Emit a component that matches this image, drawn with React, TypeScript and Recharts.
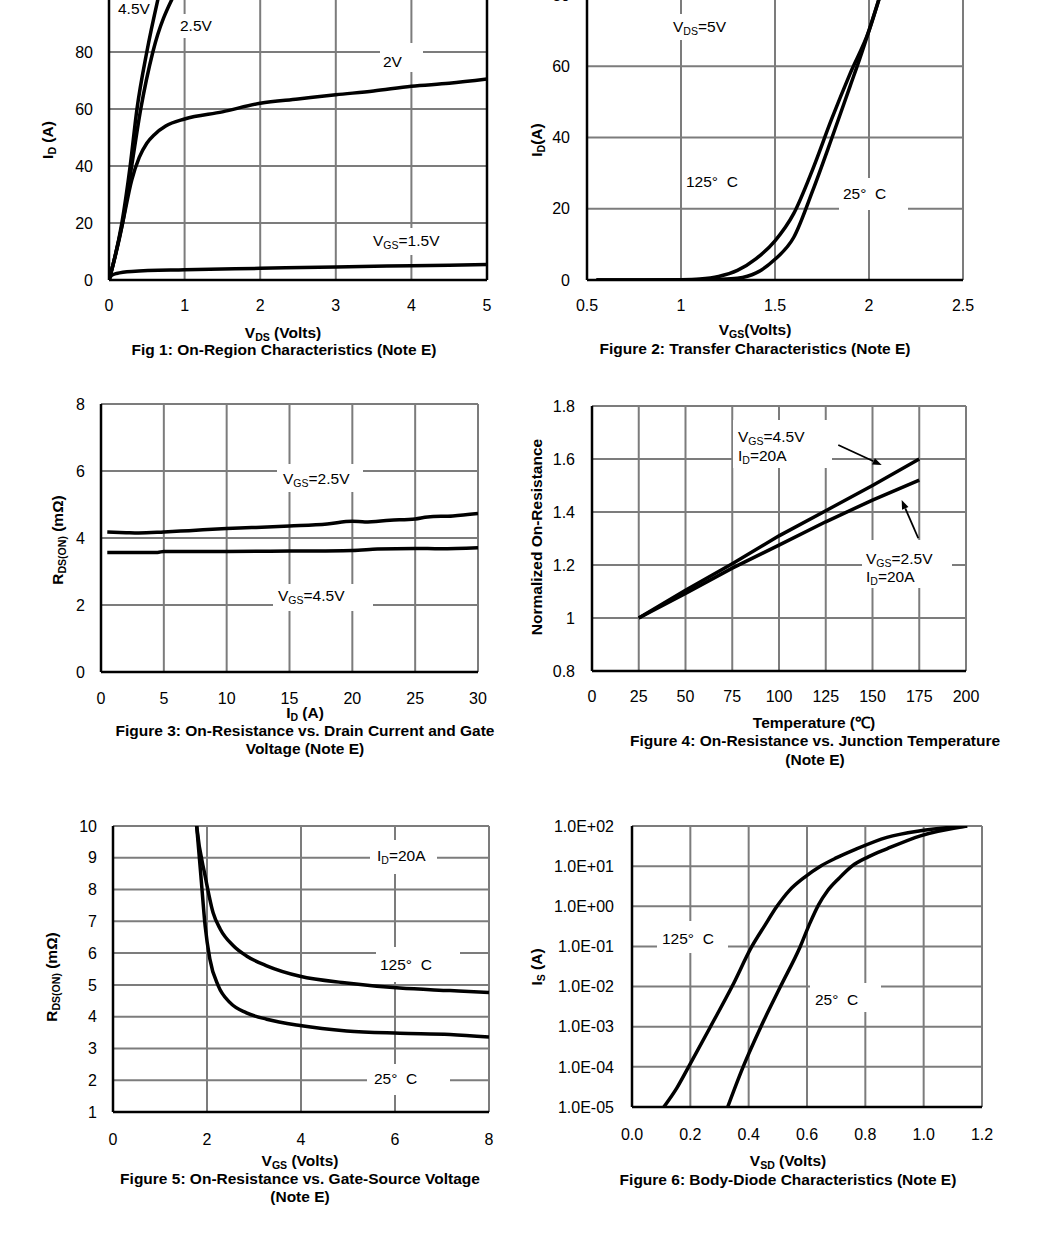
import React from 'react'
import { LineChart, Line, XAxis, YAxis, CartesianGrid, ReferenceLine } from 'recharts'

const FONT = '"Liberation Sans", Arial, Helvetica, sans-serif'

// Fig 1: ID vs VDS
const fig1Vgs45 = [
  { x: 0, y: 0 }, { x: 0.05, y: 5 }, { x: 0.17, y: 20 }, { x: 0.28, y: 40 },
  { x: 0.37, y: 60 }, { x: 0.5, y: 80 }, { x: 0.66, y: 100 },
]
const fig1Vgs25 = [
  { x: 0, y: 0 }, { x: 0.05, y: 5 }, { x: 0.18, y: 20 }, { x: 0.3, y: 40 },
  { x: 0.42, y: 60 }, { x: 0.58, y: 80 }, { x: 0.86, y: 100 },
]
const fig1Vgs20 = [
  { x: 0, y: 0 }, { x: 0.05, y: 5 }, { x: 0.18, y: 20 }, { x: 0.3, y: 35 },
  { x: 0.4, y: 43 }, { x: 0.5, y: 48 }, { x: 0.6, y: 51 }, { x: 0.75, y: 54 },
  { x: 1, y: 56.5 }, { x: 1.5, y: 59 }, { x: 2, y: 62 }, { x: 2.5, y: 63.5 },
  { x: 3, y: 65 }, { x: 3.5, y: 66.3 }, { x: 4, y: 68 }, { x: 4.5, y: 69 }, { x: 5, y: 70.5 },
]
const fig1Vgs15 = [
  { x: 0, y: 0 }, { x: 0.03, y: 1.5 }, { x: 0.1, y: 2.3 }, { x: 0.3, y: 3 },
  { x: 1, y: 3.6 }, { x: 2, y: 4.1 }, { x: 3, y: 4.6 }, { x: 4, y: 5 }, { x: 5, y: 5.4 },
]

// Fig 2: ID vs VGS
const fig2T125 = [
  { x: 0.55, y: 0 }, { x: 0.8, y: 0 }, { x: 1.0, y: 0.1 }, { x: 1.1, y: 0.3 },
  { x: 1.2, y: 1 }, { x: 1.3, y: 2.7 }, { x: 1.4, y: 6 }, { x: 1.5, y: 11 },
  { x: 1.6, y: 18.7 }, { x: 1.7, y: 31 }, { x: 1.8, y: 45 }, { x: 1.9, y: 58 },
  { x: 2.0, y: 70 }, { x: 2.06, y: 80 },
]
const fig2T25 = [
  { x: 0.55, y: 0 }, { x: 1.0, y: 0 }, { x: 1.2, y: 0.2 }, { x: 1.3, y: 0.5 },
  { x: 1.4, y: 2 }, { x: 1.5, y: 5.8 }, { x: 1.6, y: 12 }, { x: 1.7, y: 25 },
  { x: 1.8, y: 39.5 }, { x: 1.9, y: 54.5 }, { x: 1.95, y: 62 }, { x: 2.0, y: 70 },
  { x: 2.06, y: 80 },
]

// Fig 3: RDS(ON) vs ID
const fig3Vgs25 = [
  { x: 0.5, y: 4.18 }, { x: 2, y: 4.16 }, { x: 3, y: 4.15 }, { x: 5, y: 4.18 },
  { x: 7, y: 4.22 }, { x: 10, y: 4.28 }, { x: 12, y: 4.31 }, { x: 15, y: 4.36 },
  { x: 18, y: 4.42 }, { x: 20, y: 4.5 }, { x: 21, y: 4.48 }, { x: 23, y: 4.53 },
  { x: 25, y: 4.57 }, { x: 26, y: 4.63 }, { x: 28, y: 4.66 }, { x: 30, y: 4.73 },
]
const fig3Vgs45 = [
  { x: 0.5, y: 3.57 }, { x: 4.5, y: 3.57 }, { x: 5, y: 3.6 }, { x: 10, y: 3.6 },
  { x: 15, y: 3.61 }, { x: 20, y: 3.63 }, { x: 22, y: 3.67 }, { x: 25, y: 3.69 },
  { x: 27, y: 3.68 }, { x: 30, y: 3.71 },
]

// Fig 4: normalized RDS(ON) vs temperature
const fig4Vgs45 = [
  { x: 25, y: 1 }, { x: 50, y: 1.105 }, { x: 75, y: 1.205 }, { x: 100, y: 1.31 },
  { x: 125, y: 1.405 }, { x: 150, y: 1.5 }, { x: 175, y: 1.6 },
]
const fig4Vgs25 = [
  { x: 25, y: 1 }, { x: 50, y: 1.093 }, { x: 75, y: 1.188 }, { x: 100, y: 1.275 },
  { x: 125, y: 1.363 }, { x: 150, y: 1.445 }, { x: 175, y: 1.52 },
]

// Fig 5: RDS(ON) vs VGS
const fig5T125 = [
  { x: 1.72, y: 11 }, { x: 1.78, y: 10 }, { x: 1.96, y: 8.43 }, { x: 2.13, y: 7.27 },
  { x: 2.28, y: 6.76 }, { x: 2.56, y: 6.23 }, { x: 2.84, y: 5.91 }, { x: 3.27, y: 5.6 },
  { x: 3.98, y: 5.27 }, { x: 4.97, y: 5.06 }, { x: 6.1, y: 4.9 }, { x: 7.17, y: 4.82 },
  { x: 8, y: 4.76 },
]
const fig5T25 = [
  { x: 1.72, y: 11 }, { x: 1.78, y: 10 }, { x: 1.87, y: 8.43 }, { x: 1.96, y: 6.86 },
  { x: 2.06, y: 5.82 }, { x: 2.24, y: 4.97 }, { x: 2.49, y: 4.44 }, { x: 2.84, y: 4.12 },
  { x: 3.27, y: 3.92 }, { x: 3.98, y: 3.72 }, { x: 4.97, y: 3.55 }, { x: 6.1, y: 3.48 },
  { x: 7.17, y: 3.44 }, { x: 8, y: 3.36 },
]

// Fig 6: IS vs VSD (log)
const fig6T125 = [
  { x: 0.109, y: 1e-5 }, { x: 0.154, y: 3e-5 }, { x: 0.194, y: 1e-4 }, { x: 0.269, y: 1e-3 },
  { x: 0.343, y: 1e-2 }, { x: 0.411, y: 1e-1 }, { x: 0.455, y: 0.33 }, { x: 0.497, y: 1 },
  { x: 0.54, y: 2.5 }, { x: 0.59, y: 5.2 }, { x: 0.646, y: 10 }, { x: 0.7, y: 16 },
  { x: 0.76, y: 25 }, { x: 0.874, y: 52 }, { x: 0.989, y: 76 }, { x: 1.149, y: 100 },
]
const fig6T25 = [
  { x: 0.328, y: 1e-5 }, { x: 0.381, y: 1e-4 }, { x: 0.442, y: 1e-3 }, { x: 0.509, y: 1e-2 },
  { x: 0.577, y: 1e-1 }, { x: 0.61, y: 0.38 }, { x: 0.64, y: 1.1 }, { x: 0.67, y: 2.4 },
  { x: 0.71, y: 5 }, { x: 0.754, y: 10 }, { x: 0.81, y: 17 }, { x: 0.874, y: 27 },
  { x: 0.989, y: 57 }, { x: 1.149, y: 100 },
]

const fig1XTicks = [0, 1, 2, 3, 4, 5]
const fig1YTicks = [0, 20, 40, 60, 80]
const fig2XTicks = [0.5, 1, 1.5, 2, 2.5]
const fig2YTicks = [0, 20, 40, 60, 80]
const fig3XTicks = [0, 5, 10, 15, 20, 25, 30]
const fig3YTicks = [0, 2, 4, 6, 8]
const fig4XTicks = [0, 25, 50, 75, 100, 125, 150, 175, 200]
const fig4YTicks = [0.8, 1, 1.2, 1.4, 1.6, 1.8]
const fig5XTicks = [0, 2, 4, 6, 8]
const fig5YTicks = [1, 2, 3, 4, 5, 6, 7, 8, 9, 10]
const fig6XTicks = [0, 0.2, 0.4, 0.6, 0.8, 1.0, 1.2]
const fig6YTicks = [1e-5, 1e-4, 1e-3, 1e-2, 1e-1, 1, 10, 100]

const XH = 44
const MT = 10
const MR = 24

const tickStyle = { fill: '#000', fontSize: 16, fontFamily: FONT }
const axisLine = { stroke: '#000', strokeWidth: 2.5 }
const gridStroke = '#7c7c7c'

type Frame = { l: number; t: number; r: number; b: number; yw: number }

function box(f: Frame) {
  return { position: 'absolute' as const, left: f.l - f.yw, top: f.t - MT, width: f.r - f.l + f.yw + MR, height: f.b - f.t + MT + XH }
}

function size(f: Frame) {
  return {
    width: f.r - f.l + f.yw + MR,
    height: f.b - f.t + MT + XH,
    margin: { top: MT, right: MR, left: 0, bottom: 0 },
  }
}

const Sub = ({ children }: { children: React.ReactNode }) => (
  <span style={{ fontSize: '0.68em', position: 'relative', top: '0.28em' }}>{children}</span>
)

function Note({ x, cy, bg, children }: { x: number; cy: number; bg?: number[]; children: React.ReactNode }) {
  return (
    <>
      {bg && (
        <div style={{ position: 'absolute', left: bg[0], top: bg[1], width: bg[2] - bg[0], height: bg[3] - bg[1], background: '#fff' }} />
      )}
      <div style={{ position: 'absolute', left: x, top: cy - 9, lineHeight: '18px', fontSize: 15.5, fontFamily: FONT, whiteSpace: 'pre', color: '#000' }}>
        {children}
      </div>
    </>
  )
}

function Caption({ cx, cy, children }: { cx: number; cy: number; children: React.ReactNode }) {
  return (
    <div style={{ position: 'absolute', left: cx, top: cy - 9, lineHeight: '18px', transform: 'translateX(-50%)', fontSize: 15.5, fontWeight: 'bold', fontFamily: FONT, whiteSpace: 'nowrap', color: '#000' }}>
      {children}
    </div>
  )
}

function YTitle({ cx, cy, children }: { cx: number; cy: number; children: React.ReactNode }) {
  return (
    <div style={{ position: 'absolute', left: cx, top: cy, transform: 'translate(-50%, -50%) rotate(-90deg)', lineHeight: '18px', fontSize: 15.5, fontWeight: 'bold', fontFamily: FONT, whiteSpace: 'nowrap', color: '#000' }}>
      {children}
    </div>
  )
}

function Arrow(props: any) {
  const { x1, y1, x2, y2 } = props
  const a = Math.atan2(y2 - y1, x2 - x1)
  const L = 9
  const W = 3.5
  const bx = x2 - L * Math.cos(a)
  const by = y2 - L * Math.sin(a)
  const p1 = `${bx + W * Math.sin(a)},${by - W * Math.cos(a)}`
  const p2 = `${bx - W * Math.sin(a)},${by + W * Math.cos(a)}`
  return (
    <g>
      <line x1={x1} y1={y1} x2={bx} y2={by} stroke="#000" strokeWidth={1.8} />
      <polygon points={`${x2},${y2} ${p1} ${p2}`} fill="#000" />
    </g>
  )
}

const sci = (v: number) => {
  const e = Math.round(Math.log10(v))
  return `1.0E${e < 0 ? '-' : '+'}${String(Math.abs(e)).padStart(2, '0')}`
}

function curve(data: { x: number; y: number }[], type: 'monotone' | 'linear' = 'monotone') {
  return (
    <Line data={data} dataKey="y" type={type} stroke="#000" strokeWidth={3.5} dot={false} isAnimationActive={false} />
  )
}

export default function App() {
  const f1: Frame = { l: 109, t: -5, r: 487, b: 280, yw: 60 }
  const f2: Frame = { l: 587, t: -5, r: 963, b: 280, yw: 60 }
  const f3: Frame = { l: 101, t: 404, r: 478, b: 672, yw: 60 }
  const f4: Frame = { l: 592, t: 406, r: 966, b: 671, yw: 60 }
  const f5: Frame = { l: 113, t: 826, r: 489, b: 1112, yw: 60 }
  const f6: Frame = { l: 632, t: 826, r: 982, b: 1107, yw: 90 }

  return (
    <div style={{ position: 'absolute', left: 0, top: 0, width: 1042, height: 1240, background: '#fff', overflow: 'hidden', fontFamily: FONT }}>
      {/* Fig 1 */}
      <div style={box(f1)}>
        <LineChart {...size(f1)}>
          <CartesianGrid stroke={gridStroke} strokeWidth={2} />
          <XAxis type="number" dataKey="x" domain={[0, 5]} ticks={fig1XTicks} interval={0} height={XH} tickLine={false} tickSize={0} tickMargin={20} axisLine={axisLine} tick={tickStyle} allowDataOverflow />
          <YAxis type="number" domain={[0, 100]} ticks={fig1YTicks} interval={0} width={f1.yw} tickLine={false} tickSize={0} tickMargin={16} axisLine={axisLine} tick={tickStyle} allowDataOverflow />
          <ReferenceLine x={5} stroke="#000" strokeWidth={2.5} />
          {curve(fig1Vgs45)}
          {curve(fig1Vgs25)}
          {curve(fig1Vgs20)}
          {curve(fig1Vgs15)}
        </LineChart>
      </div>
      <Note x={118} cy={9}>4.5V</Note>
      <Note x={180} cy={26} bg={[176, 14, 215, 38]}>2.5V</Note>
      <Note x={383} cy={62} bg={[380, 43, 423, 72]}>2V</Note>
      <Note x={373} cy={241} bg={[368, 228, 445, 255]}>V<Sub>GS</Sub>=1.5V</Note>
      <YTitle cx={48} cy={140}>I<Sub>D</Sub> (A)</YTitle>
      <Caption cx={283} cy={333}>V<Sub>DS</Sub> (Volts)</Caption>
      <Caption cx={284} cy={350}>Fig 1: On-Region Characteristics (Note E)</Caption>

      {/* Fig 2 */}
      <div style={box(f2)}>
        <LineChart {...size(f2)}>
          <CartesianGrid stroke={gridStroke} strokeWidth={2} />
          <XAxis type="number" dataKey="x" domain={[0.5, 2.5]} ticks={fig2XTicks} interval={0} height={XH} tickLine={false} tickSize={0} tickMargin={20} axisLine={axisLine} tick={tickStyle} allowDataOverflow />
          <YAxis type="number" domain={[0, 80]} ticks={fig2YTicks} interval={0} width={f2.yw} tickLine={false} tickSize={0} tickMargin={17} axisLine={axisLine} tick={tickStyle} allowDataOverflow />
          {curve(fig2T125)}
          {curve(fig2T25)}
        </LineChart>
      </div>
      <Note x={673} cy={27} bg={[668, 14, 730, 40]}>V<Sub>DS</Sub>=5V</Note>
      <Note x={686} cy={182} bg={[682, 167, 745, 197]}>{'125°  C'}</Note>
      <Note x={843} cy={194} bg={[839, 178, 908, 210]}>{'25°  C'}</Note>
      <YTitle cx={537} cy={140}>I<Sub>D</Sub>(A)</YTitle>
      <Caption cx={755} cy={330}>V<Sub>GS</Sub>(Volts)</Caption>
      <Caption cx={755} cy={349}>Figure 2: Transfer Characteristics (Note E)</Caption>

      {/* Fig 3 */}
      <div style={box(f3)}>
        <LineChart {...size(f3)}>
          <CartesianGrid stroke={gridStroke} strokeWidth={2} />
          <XAxis type="number" dataKey="x" domain={[0, 30]} ticks={fig3XTicks} interval={0} height={XH} tickLine={false} tickSize={0} tickMargin={21} axisLine={axisLine} tick={tickStyle} allowDataOverflow />
          <YAxis type="number" domain={[0, 8]} ticks={fig3YTicks} interval={0} width={f3.yw} tickLine={false} tickSize={0} tickMargin={16} axisLine={axisLine} tick={tickStyle} allowDataOverflow />
          {curve(fig3Vgs25)}
          {curve(fig3Vgs45)}
        </LineChart>
      </div>
      <Note x={283} cy={479} bg={[277, 464, 363, 492]}>V<Sub>GS</Sub>=2.5V</Note>
      <Note x={278} cy={596} bg={[273, 584, 373, 611]}>V<Sub>GS</Sub>=4.5V</Note>
      <YTitle cx={58} cy={540}>R<Sub>DS(ON)</Sub> (mΩ)</YTitle>
      <Caption cx={305} cy={713}>I<Sub>D</Sub> (A)</Caption>
      <Caption cx={305} cy={731}>Figure 3: On-Resistance vs. Drain Current and Gate</Caption>
      <Caption cx={305} cy={749}>Voltage (Note E)</Caption>

      {/* Fig 4 */}
      <div style={box(f4)}>
        <LineChart {...size(f4)}>
          <CartesianGrid stroke={gridStroke} strokeWidth={2} />
          <XAxis type="number" dataKey="x" domain={[0, 200]} ticks={fig4XTicks} interval={0} height={XH} tickLine={false} tickSize={0} tickMargin={20} axisLine={axisLine} tick={tickStyle} allowDataOverflow />
          <YAxis type="number" domain={[0.8, 1.8]} ticks={fig4YTicks} interval={0} width={f4.yw} tickLine={false} tickSize={0} tickMargin={17} axisLine={axisLine} tick={tickStyle} allowDataOverflow />
          {curve(fig4Vgs45, 'linear')}
          {curve(fig4Vgs25, 'linear')}
          <ReferenceLine segment={[{ x: 131.7, y: 1.653 }, { x: 154.9, y: 1.577 }]} shape={Arrow} />
          <ReferenceLine segment={[{ x: 174.5, y: 1.301 }, { x: 165.6, y: 1.445 }]} shape={Arrow} />
        </LineChart>
      </div>
      <Note x={738} cy={437} bg={[733, 420, 832, 468]}>V<Sub>GS</Sub>=4.5V</Note>
      <Note x={738} cy={456}>I<Sub>D</Sub>=20A</Note>
      <Note x={866} cy={559} bg={[862, 540, 952, 588]}>V<Sub>GS</Sub>=2.5V</Note>
      <Note x={866} cy={577}>I<Sub>D</Sub>=20A</Note>
      <YTitle cx={537} cy={537}>Normalized On-Resistance</YTitle>
      <Caption cx={814} cy={723}>Temperature (℃)</Caption>
      <Caption cx={815} cy={741}>Figure 4: On-Resistance vs. Junction Temperature</Caption>
      <Caption cx={815} cy={760}>(Note E)</Caption>

      {/* Fig 5 */}
      <div style={box(f5)}>
        <LineChart {...size(f5)}>
          <CartesianGrid stroke={gridStroke} strokeWidth={2} />
          <XAxis type="number" dataKey="x" domain={[0, 8]} ticks={fig5XTicks} interval={0} height={XH} tickLine={false} tickSize={0} tickMargin={22} axisLine={axisLine} tick={tickStyle} allowDataOverflow />
          <YAxis type="number" domain={[1, 10]} ticks={fig5YTicks} interval={0} width={f5.yw} tickLine={false} tickSize={0} tickMargin={16} axisLine={axisLine} tick={tickStyle} allowDataOverflow />
          {curve(fig5T125)}
          {curve(fig5T25)}
        </LineChart>
      </div>
      <Note x={377} cy={856} bg={[370, 840, 437, 874]}>I<Sub>D</Sub>=20A</Note>
      <Note x={380} cy={965} bg={[376, 947, 460, 982]}>{'125°  C'}</Note>
      <Note x={374} cy={1079} bg={[367, 1064, 450, 1095]}>{'25°  C'}</Note>
      <YTitle cx={52} cy={977}>R<Sub>DS(ON)</Sub> (mΩ)</YTitle>
      <Caption cx={300} cy={1161}>V<Sub>GS</Sub> (Volts)</Caption>
      <Caption cx={300} cy={1179}>Figure 5: On-Resistance vs. Gate-Source Voltage</Caption>
      <Caption cx={300} cy={1197}>(Note E)</Caption>

      {/* Fig 6 */}
      <div style={box(f6)}>
        <LineChart {...size(f6)}>
          <CartesianGrid stroke={gridStroke} strokeWidth={2} />
          <XAxis type="number" dataKey="x" domain={[0, 1.2]} ticks={fig6XTicks} interval={0} height={XH} tickLine={false} tickSize={0} tickMargin={22} axisLine={axisLine} tick={tickStyle} tickFormatter={(v: number) => v.toFixed(1)} allowDataOverflow />
          <YAxis type="number" scale="log" domain={[1e-5, 100]} ticks={fig6YTicks} interval={0} width={f6.yw} tickLine={false} tickSize={0} tickMargin={18} axisLine={axisLine} tick={tickStyle} tickFormatter={sci} allowDataOverflow />
          {curve(fig6T125)}
          {curve(fig6T25)}
        </LineChart>
      </div>
      <Note x={662} cy={939} bg={[657, 921, 728, 953]}>{'125°  C'}</Note>
      <Note x={815} cy={1000} bg={[810, 983, 881, 1012]}>{'25°  C'}</Note>
      <YTitle cx={537} cy={967}>I<Sub>S</Sub> (A)</YTitle>
      <Caption cx={788} cy={1161}>V<Sub>SD</Sub> (Volts)</Caption>
      <Caption cx={788} cy={1180}>Figure 6: Body-Diode Characteristics (Note E)</Caption>
    </div>
  )
}
